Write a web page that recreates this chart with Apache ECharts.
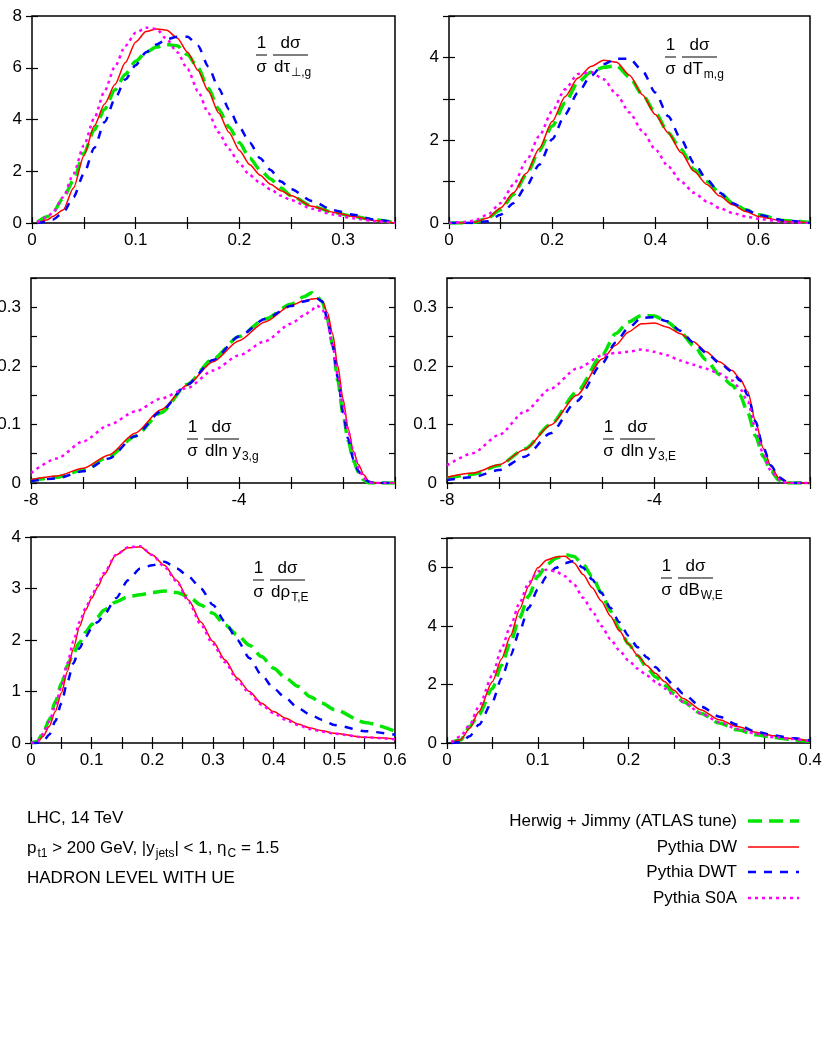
<!DOCTYPE html>
<html>
<head>
<meta charset="utf-8">
<script src="https://cdn.jsdelivr.net/npm/echarts@6/dist/echarts.min.js"></script>
<style>
  html, body { margin: 0; padding: 0; background: #fff; }
  #chart { width: 830px; height: 1039px; }
</style>
</head>
<body>
<div id="chart"></div>
<script>
// series order: Herwig+Jimmy, Pythia DW, Pythia DWT, Pythia S0A
const seriesNames = ['Herwig + Jimmy (ATLAS tune)', 'Pythia DW', 'Pythia DWT', 'Pythia S0A']

// panel 1: tau_perp,g
const tauX = [0.005, 0.015, 0.02, 0.03, 0.04, 0.05, 0.06, 0.07, 0.08, 0.09, 0.1, 0.11, 0.12, 0.13, 0.14, 0.15, 0.16, 0.17, 0.18, 0.19, 0.2, 0.21, 0.22, 0.23, 0.24, 0.25, 0.27, 0.29, 0.31, 0.33, 0.35]
const tauHerwig = [0.02, 0.25, 0.4, 0.95, 1.65, 2.7, 3.6, 4.4, 5.15, 5.75, 6.25, 6.6, 6.8, 6.9, 6.85, 6.5, 6.0, 5.2, 4.4, 3.7, 3.1, 2.5, 2.05, 1.7, 1.35, 1.05, 0.65, 0.42, 0.25, 0.12, 0.02]
const tauDW = [0, 0.13, 0.25, 0.5, 1.35, 2.6, 3.75, 4.6, 5.35, 6.2, 7.0, 7.4, 7.5, 7.45, 7.15, 6.6, 5.9, 5.1, 4.25, 3.5, 2.8, 2.25, 1.85, 1.5, 1.25, 1.05, 0.65, 0.42, 0.25, 0.1, 0]
const tauDWT = [0, 0.05, 0.13, 0.4, 1.0, 1.9, 2.9, 3.9, 4.8, 5.55, 6.1, 6.6, 6.9, 7.1, 7.2, 7.2, 6.85, 6.05, 5.2, 4.4, 3.7, 3.1, 2.5, 2.05, 1.6, 1.3, 0.85, 0.5, 0.32, 0.13, 0.02]
const tauS0A = [0.02, 0.25, 0.4, 1.0, 1.9, 3.0, 4.05, 5.1, 6.05, 6.85, 7.35, 7.55, 7.5, 7.1, 6.6, 5.95, 5.1, 4.25, 3.5, 2.85, 2.3, 1.85, 1.55, 1.3, 1.05, 0.88, 0.55, 0.33, 0.18, 0.07, 0.01]

// panel 2: T_m,g
const tmX = [0, 0.025, 0.05, 0.075, 0.1, 0.125, 0.15, 0.175, 0.2, 0.225, 0.25, 0.275, 0.3, 0.325, 0.35, 0.375, 0.4, 0.425, 0.45, 0.475, 0.5, 0.525, 0.55, 0.575, 0.6, 0.65, 0.7]
const tmHerwig = [0, 0, 0.02, 0.12, 0.32, 0.69, 1.17, 1.74, 2.34, 2.9, 3.4, 3.64, 3.76, 3.8, 3.52, 3.1, 2.67, 2.18, 1.78, 1.29, 1.0, 0.73, 0.48, 0.32, 0.2, 0.06, 0.01]
const tmDW = [0, 0, 0.02, 0.12, 0.36, 0.73, 1.2, 1.8, 2.45, 3.05, 3.5, 3.78, 3.93, 3.88, 3.57, 3.1, 2.62, 2.18, 1.7, 1.25, 0.93, 0.65, 0.44, 0.28, 0.16, 0.04, 0]
const tmDWT = [0, 0, 0, 0.04, 0.2, 0.48, 0.89, 1.41, 2.02, 2.62, 3.15, 3.55, 3.84, 3.97, 3.97, 3.68, 3.15, 2.58, 2.02, 1.45, 1.05, 0.73, 0.48, 0.32, 0.2, 0.06, 0]
const tmS0A = [0, 0.02, 0.06, 0.2, 0.48, 0.93, 1.5, 2.1, 2.7, 3.23, 3.6, 3.65, 3.47, 3.1, 2.67, 2.22, 1.78, 1.37, 1.0, 0.73, 0.52, 0.36, 0.24, 0.16, 0.1, 0.02, 0]

// panel 3: ln y3,g
const y3gX = [-8, -7.5, -7, -6.5, -6, -5.5, -5, -4.5, -4, -3.5, -3, -2.75, -2.6, -2.5, -2.4, -2.3, -2.2, -2.1, -2.0, -1.9, -1.8, -1.7, -1.6, -1.5, -1.4, -1]
const y3gHerwig = [0.004, 0.01, 0.022, 0.045, 0.08, 0.12, 0.168, 0.212, 0.25, 0.28, 0.305, 0.318, 0.325, 0.318, 0.31, 0.28, 0.235, 0.175, 0.118, 0.072, 0.038, 0.018, 0.005, 0, 0, 0]
const y3gDW = [0.006, 0.012, 0.025, 0.048, 0.085, 0.125, 0.167, 0.207, 0.243, 0.275, 0.303, 0.311, 0.314, 0.315, 0.311, 0.291, 0.255, 0.2, 0.144, 0.093, 0.054, 0.031, 0.014, 0.003, 0, 0]
const y3gDWT = [0.003, 0.008, 0.02, 0.042, 0.08, 0.122, 0.168, 0.21, 0.25, 0.28, 0.302, 0.31, 0.313, 0.315, 0.31, 0.28, 0.235, 0.18, 0.12, 0.075, 0.04, 0.02, 0.007, 0.002, 0, 0]
const y3gS0A = [0.017, 0.042, 0.071, 0.099, 0.122, 0.144, 0.162, 0.192, 0.218, 0.242, 0.272, 0.286, 0.296, 0.303, 0.297, 0.274, 0.235, 0.184, 0.133, 0.088, 0.054, 0.025, 0.008, 0.001, 0, 0]

// panel 4: ln y3,E
const y3eX = [-8, -7.5, -7, -6.5, -6, -5.5, -5, -4.75, -4.5, -4.25, -4, -3.75, -3.5, -3.25, -3, -2.75, -2.5, -2.35, -2.2, -2.05, -1.9, -1.75, -1.6, -1.45, -1.3, -1]
const y3eHerwig = [0.008, 0.015, 0.03, 0.058, 0.1, 0.155, 0.22, 0.255, 0.275, 0.286, 0.285, 0.275, 0.258, 0.235, 0.21, 0.185, 0.167, 0.15, 0.12, 0.08, 0.045, 0.02, 0.005, 0, 0, 0]
const y3eDW = [0.01, 0.017, 0.031, 0.057, 0.099, 0.15, 0.212, 0.235, 0.258, 0.272, 0.273, 0.266, 0.255, 0.241, 0.224, 0.207, 0.192, 0.178, 0.156, 0.105, 0.059, 0.028, 0.008, 0.001, 0, 0]
const y3eDWT = [0.005, 0.01, 0.022, 0.045, 0.085, 0.14, 0.205, 0.24, 0.265, 0.282, 0.283, 0.276, 0.26, 0.24, 0.222, 0.205, 0.19, 0.175, 0.15, 0.105, 0.06, 0.03, 0.01, 0.002, 0, 0]
const y3eS0A = [0.03, 0.051, 0.082, 0.122, 0.161, 0.195, 0.218, 0.222, 0.224, 0.228, 0.224, 0.218, 0.209, 0.202, 0.195, 0.187, 0.175, 0.161, 0.139, 0.093, 0.048, 0.02, 0.006, 0, 0, 0]

// panel 5: rho_T,E
const rhoX = [0, 0.01, 0.02, 0.03, 0.04, 0.05, 0.06, 0.07, 0.08, 0.09, 0.1, 0.11, 0.12, 0.14, 0.16, 0.18, 0.2, 0.22, 0.24, 0.26, 0.28, 0.3, 0.32, 0.34, 0.36, 0.38, 0.4, 0.42, 0.44, 0.46, 0.48, 0.5, 0.55, 0.6]
const rhoHerwig = [0, 0.03, 0.19, 0.45, 0.8, 1.15, 1.5, 1.75, 1.95, 2.15, 2.3, 2.45, 2.58, 2.74, 2.84, 2.88, 2.92, 2.95, 2.92, 2.84, 2.68, 2.52, 2.29, 2.1, 1.9, 1.68, 1.45, 1.26, 1.1, 0.9, 0.77, 0.65, 0.4, 0.23]
const rhoDW = [0, 0.01, 0.13, 0.32, 0.61, 0.97, 1.39, 1.84, 2.26, 2.58, 2.81, 3.03, 3.26, 3.65, 3.79, 3.81, 3.65, 3.45, 3.16, 2.77, 2.35, 1.97, 1.61, 1.26, 1.0, 0.77, 0.61, 0.48, 0.37, 0.29, 0.24, 0.19, 0.11, 0.08]
const rhoDWT = [0, 0, 0.03, 0.16, 0.42, 0.77, 1.19, 1.55, 1.84, 2.06, 2.23, 2.35, 2.48, 2.81, 3.16, 3.39, 3.45, 3.52, 3.39, 3.23, 3.0, 2.68, 2.35, 2.0, 1.65, 1.32, 1.06, 0.87, 0.68, 0.55, 0.45, 0.35, 0.23, 0.16]
const rhoS0A = [0, 0.02, 0.18, 0.42, 0.72, 1.1, 1.55, 1.98, 2.35, 2.62, 2.85, 3.08, 3.3, 3.65, 3.8, 3.82, 3.65, 3.42, 3.14, 2.74, 2.3, 1.92, 1.57, 1.22, 0.97, 0.74, 0.58, 0.45, 0.35, 0.27, 0.22, 0.18, 0.11, 0.07]

// panel 6: B_W,E
const bwX = [0.005, 0.015, 0.025, 0.035, 0.05, 0.06, 0.07, 0.08, 0.09, 0.1, 0.11, 0.12, 0.13, 0.14, 0.15, 0.16, 0.17, 0.18, 0.19, 0.2, 0.21, 0.22, 0.23, 0.24, 0.25, 0.26, 0.28, 0.3, 0.32, 0.34, 0.36, 0.38, 0.4]
const bwHerwig = [0.02, 0.1, 0.56, 0.96, 1.86, 2.65, 3.44, 4.28, 5.02, 5.69, 6.09, 6.31, 6.43, 6.37, 6.09, 5.69, 5.13, 4.51, 3.89, 3.38, 2.99, 2.59, 2.25, 1.97, 1.69, 1.41, 1.01, 0.68, 0.45, 0.28, 0.19, 0.11, 0.06]
const bwDW = [0, 0.11, 0.5, 1.07, 2.09, 2.87, 3.66, 4.57, 5.36, 5.98, 6.25, 6.35, 6.38, 6.15, 5.75, 5.3, 4.85, 4.34, 3.83, 3.38, 2.99, 2.65, 2.37, 2.09, 1.8, 1.52, 1.13, 0.79, 0.56, 0.37, 0.25, 0.15, 0.06]
const bwDWT = [0, 0.03, 0.23, 0.62, 1.41, 2.2, 2.99, 3.83, 4.62, 5.24, 5.69, 5.98, 6.14, 6.22, 5.98, 5.58, 5.13, 4.62, 4.12, 3.66, 3.27, 2.93, 2.59, 2.25, 1.97, 1.69, 1.24, 0.9, 0.62, 0.39, 0.26, 0.17, 0.09]
const bwS0A = [0.02, 0.23, 0.62, 1.24, 2.31, 3.21, 4.0, 4.79, 5.47, 5.86, 5.92, 5.86, 5.69, 5.41, 4.96, 4.51, 4.0, 3.55, 3.16, 2.82, 2.54, 2.31, 2.09, 1.86, 1.63, 1.41, 1.01, 0.71, 0.48, 0.32, 0.2, 0.14, 0.06]

const infoLines = ['LHC, 14 TeV', '{m|p}{s|t1}{m| > 200 GeV, |y}{s|jets}{m|| < 1, η}{s|C}{m| = 1.5}', 'HADRON LEVEL WITH UE']

const FONT = '"Liberation Sans", Arial, Helvetica, sans-serif'
const FS = 17

const lineStyles = [
  { color: '#00e600', width: 3.5, type: [14, 7] },
  { color: '#ff0000', width: 1.5, type: 'solid' },
  { color: '#0000ff', width: 2.5, type: [8, 8] },
  { color: '#ff00ff', width: 2.5, type: [3, 4] }
]

const panels = [
  { left: 32, top: 16, width: 363, height: 207, x: tauX, ys: [tauHerwig, tauDW, tauDWT, tauS0A],
    xMin: 0, xMax: 0.35, xStep: 0.05, xLab: 0.1, yMin: 0, yMax: 8, yStep: 2, yLab: 2,
    f: { dx: 224, dy: 39, den: 'dτ', sub: '⊥,g' } },
  { left: 449, top: 16, width: 361, height: 207, x: tmX, ys: [tmHerwig, tmDW, tmDWT, tmS0A],
    xMin: 0, xMax: 0.7, xStep: 0.1, xLab: 0.2, yMin: 0, yMax: 5, yStep: 1, yLab: 2,
    f: { dx: 216, dy: 41, den: 'dT', sub: 'm,g' } },
  { left: 31, top: 278, width: 364, height: 205, x: y3gX, ys: [y3gHerwig, y3gDW, y3gDWT, y3gS0A],
    xMin: -8, xMax: -1, xStep: 1, xLab: 4, yMin: 0, yMax: 0.35, yStep: 0.05, yLab: 0.1,
    f: { dx: 156, dy: 161, den: 'dln y', sub: '3,g' } },
  { left: 447, top: 278, width: 363, height: 205, x: y3eX, ys: [y3eHerwig, y3eDW, y3eDWT, y3eS0A],
    xMin: -8, xMax: -1, xStep: 1, xLab: 4, yMin: 0, yMax: 0.35, yStep: 0.05, yLab: 0.1,
    f: { dx: 156, dy: 161, den: 'dln y', sub: '3,E' } },
  { left: 31, top: 537, width: 364, height: 206, x: rhoX, ys: [rhoHerwig, rhoDW, rhoDWT, rhoS0A],
    xMin: 0, xMax: 0.6, xStep: 0.05, xLab: 0.1, yMin: 0, yMax: 4, yStep: 1, yLab: 1,
    f: { dx: 222, dy: 43, den: 'dρ', sub: 'T,E' } },
  { left: 447, top: 538, width: 363, height: 205, x: bwX, ys: [bwHerwig, bwDW, bwDWT, bwS0A],
    xMin: 0, xMax: 0.4, xStep: 0.05, xLab: 0.1, yMin: 0, yMax: 7, yStep: 2, yLab: 2,
    f: { dx: 214, dy: 40, den: 'dB', sub: 'W,E' } }
]

function onStep(v, step) {
  const r = v / step
  return Math.abs(r - Math.round(r)) < 1e-6
}
function fmt(v) {
  return String(parseFloat(v.toFixed(4)))
}

function axis(kind, i, p, pos, showLabel) {
  const isX = kind === 'x'
  return {
    gridIndex: i,
    type: 'value',
    position: pos,
    min: isX ? p.xMin : p.yMin,
    max: isX ? p.xMax : p.yMax,
    interval: isX ? p.xStep : p.yStep,
    axisLine: { show: false },
    axisTick: { show: true, inside: true, length: 6, lineStyle: { color: '#000', width: 1.2 } },
    axisLabel: {
      show: showLabel,
      color: '#000',
      fontSize: FS,
      fontFamily: FONT,
      margin: isX ? 9 : 10,
      formatter: (v) => (onStep(v, isX ? p.xLab : p.yLab) ? fmt(v) : '')
    },
    splitLine: { show: false }
  }
}

const grid = []
const xAxis = []
const yAxis = []
const series = []
const graphic = []

const rich = {
  m: { fontSize: FS, fontFamily: FONT, lineHeight: FS, verticalAlign: 'top', fill: '#000' },
  s: { fontSize: 12, fontFamily: FONT, lineHeight: 12, verticalAlign: 'top', padding: [8, 0, 0, 1], fill: '#000' }
}

panels.forEach((p, i) => {
  grid.push({
    left: p.left, top: p.top, width: p.width, height: p.height,
    show: true, borderColor: '#000', borderWidth: 1.5, backgroundColor: 'transparent',
    containLabel: false, outerBoundsMode: 'none'
  })
  xAxis.push(axis('x', i, p, 'bottom', true))
  xAxis.push(axis('x', i, p, 'top', false))
  yAxis.push(axis('y', i, p, 'left', true))
  yAxis.push(axis('y', i, p, 'right', false))

  p.ys.forEach((ys, k) => {
    const ls = lineStyles[k]
    series.push({
      name: seriesNames[k],
      type: 'line',
      xAxisIndex: 2 * i,
      yAxisIndex: 2 * i,
      data: p.x.map((xv, j) => [xv, ys[j]]),
      showSymbol: false,
      smooth: 0.25,
      smoothMonotone: 'x',
      lineStyle: { color: ls.color, width: ls.width, type: ls.type },
      itemStyle: { color: ls.color },
      z: 2 + k
    })
  })

  // 1/σ dσ/d… label
  const x0 = p.left + p.f.dx
  const by = p.top + p.f.dy
  const txt = (t, x, y) => ({
    type: 'text', x, y, silent: true,
    style: { text: t, fontSize: FS, fontFamily: FONT, fill: '#000', align: 'center', verticalAlign: 'middle' }
  })
  const bar = (xa, xb) => ({
    type: 'line', silent: true,
    shape: { x1: xa, y1: by, x2: xb, y2: by },
    style: { stroke: '#000', lineWidth: 1 }
  })
  graphic.push(txt('1', x0 + 5.5, by - 12))
  graphic.push(bar(x0, x0 + 11))
  graphic.push(txt('σ', x0 + 5.5, by + 12))
  graphic.push(txt('dσ', x0 + 34.5, by - 12))
  graphic.push(bar(x0 + 17, x0 + 52))
  graphic.push({
    type: 'text', x: x0 + 18, y: by + 4, silent: true,
    style: { text: `{m|${p.f.den}}{s|${p.f.sub}}`, rich, align: 'left', verticalAlign: 'top' }
  })
})

// info text at bottom left
const infoY = [810, 840, 870]
infoLines.forEach((t, i) => {
  graphic.push({
    type: 'text', x: 27, y: infoY[i], silent: true,
    style: { text: t.startsWith('{') ? t : `{m|${t}}`, rich, align: 'left', verticalAlign: 'top' }
  })
})

// legend, drawn by hand to match the key layout
const legendY = [821, 847, 872, 898]
seriesNames.forEach((name, k) => {
  const ls = lineStyles[k]
  graphic.push({
    type: 'text', x: 737, y: legendY[k], silent: true,
    style: { text: name, fontSize: FS, fontFamily: FONT, fill: '#000', align: 'right', verticalAlign: 'middle' }
  })
  graphic.push({
    type: 'line', silent: true,
    shape: { x1: 748, y1: legendY[k], x2: 799, y2: legendY[k] },
    style: { stroke: ls.color, lineWidth: ls.width, lineDash: ls.type === 'solid' ? null : ls.type }
  })
})

const chart = echarts.init(document.getElementById('chart'), null, { renderer: 'canvas' })
chart.setOption({
  backgroundColor: '#fff',
  animation: false,
  grid,
  xAxis,
  yAxis,
  series,
  graphic
})
</script>
</body>
</html>
